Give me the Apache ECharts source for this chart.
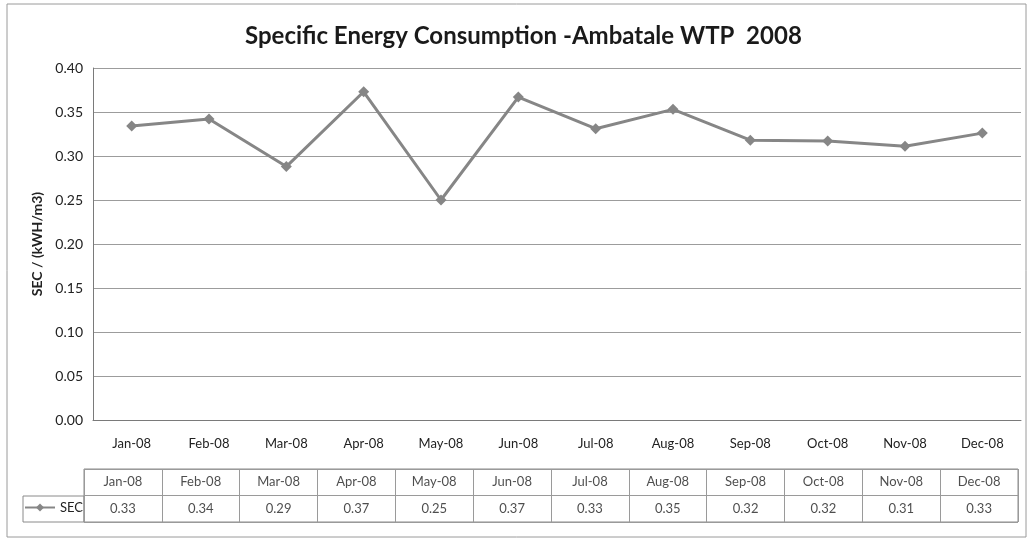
<!DOCTYPE html>
<html>
<head>
<meta charset="utf-8">
<script src="https://cdn.jsdelivr.net/npm/echarts@6/dist/echarts.min.js"></script>
<style>
html,body{margin:0;padding:0;background:#fff;}
#c{width:1029px;height:539px;}
</style>
</head>
<body>
<div id="c"></div>
<script>
const categories = ['Jan-08','Feb-08','Mar-08','Apr-08','May-08','Jun-08','Jul-08','Aug-08','Sep-08','Oct-08','Nov-08','Dec-08'];
const secValues = [0.334, 0.342, 0.288, 0.373, 0.250, 0.367, 0.331, 0.353, 0.318, 0.317, 0.311, 0.326];
const yTicks = [0, 0.05, 0.10, 0.15, 0.20, 0.25, 0.30, 0.35, 0.40];

const FONT = 'Lato';
const LINE = '#868686';
const GRIDC = '#9c9c9c';
const TXT = '#222';

const chart = echarts.init(document.getElementById('c'), null, {renderer:'canvas'});
const option = {
  backgroundColor: '#ffffff',
  animation: false,
  title: {
    text: 'Specific Energy Consumption -Ambatale WTP  2008',
    left: 240, top: 19,
    textStyle: {fontFamily: FONT, fontWeight: 'bold', fontSize: 24, color: '#1a1a1a'}
  },
  graphic: [{
    type: 'rect', silent: true, z: -1,
    shape: {x: 7, y: 4, width: 1019, height: 533},
    style: {fill: 'none', stroke: '#9a9a9a', lineWidth: 1}
  }],
  legend: {
    data: ['SEC'], left: 24, top: 501, itemWidth: 30, itemHeight: 10, itemGap: 4,
    textStyle: {fontFamily: FONT, fontSize: 13, color: TXT}, padding: 0
  },
  grid: [
    {left: 93, right: 8, top: 68, height: 352, containLabel: false},
    {left: 84, right: 11, top: 469, height: 53, show: true, borderColor: '#8a8a8a', borderWidth: 1},
    {left: 23, width: 61, top: 496, height: 26, show: true, borderColor: '#8a8a8a', borderWidth: 1}
  ],
  xAxis: [
    {gridIndex: 0, type: 'category', data: categories, boundaryGap: true,
     axisLine: {show: true, lineStyle: {color: '#7a7a7a', width: 1}},
     axisTick: {show: false},
     axisLabel: {fontFamily: FONT, fontSize: 13, color: TXT, margin: 17, interval: 0}},
    {gridIndex: 1, type: 'category', data: categories, boundaryGap: true,
     axisLine: {show: false}, axisTick: {show: false}, axisLabel: {show: false},
     splitLine: {show: true, interval: 0, lineStyle: {color: '#9a9a9a', width: 1}}},
    {gridIndex: 2, type: 'value', show: false}
  ],
  yAxis: [
    {gridIndex: 0, type: 'value', min: 0, max: 0.4, interval: 0.05,
     name: 'SEC / (kWH/m3)', nameLocation: 'middle', nameGap: 49, nameRotate: 90,
     nameTextStyle: {fontFamily: FONT, fontWeight: 'bold', fontSize: 14, color: TXT},
     axisLine: {show: true, lineStyle: {color: '#7a7a7a', width: 1}},
     axisTick: {show: false},
     axisLabel: {fontFamily: FONT, fontSize: 14, color: TXT, margin: 10,
       formatter: v => { const t = yTicks.find(x => Math.abs(x - v) < 1e-9); return (t === undefined ? v : t).toFixed(2); }},
     splitLine: {show: true, lineStyle: {color: GRIDC, width: 1}}},
    {gridIndex: 1, type: 'value', min: 0, max: 2, interval: 1, show: true,
     axisLine: {show: false}, axisTick: {show: false}, axisLabel: {show: false},
     splitLine: {show: true, lineStyle: {color: '#9a9a9a', width: 1}}},
    {gridIndex: 2, type: 'value', show: false}
  ],
  series: [
    {name: 'SEC', type: 'line', xAxisIndex: 0, yAxisIndex: 0, data: secValues,
     symbol: 'diamond', symbolSize: 11, showSymbol: true,
     lineStyle: {color: LINE, width: 3},
     itemStyle: {color: LINE}},
    {name: 'tableValues', type: 'scatter', xAxisIndex: 1, yAxisIndex: 1, symbolSize: 0,
     data: secValues.map((v, i) => [categories[i], 0.5, v]),
     label: {show: true, position: 'inside', fontFamily: FONT, fontSize: 13, color: TXT,
       formatter: p => p.data[2].toFixed(2)}, silent: true},
    {name: 'tableHeader', type: 'scatter', xAxisIndex: 1, yAxisIndex: 1, symbolSize: 0,
     data: categories.map(c => [c, 1.5]),
     label: {show: true, position: 'inside', fontFamily: FONT, fontSize: 13, color: TXT,
       formatter: p => p.data[0]}, silent: true}
  ]
};
chart.setOption(option);
</script>
</body>
</html>
